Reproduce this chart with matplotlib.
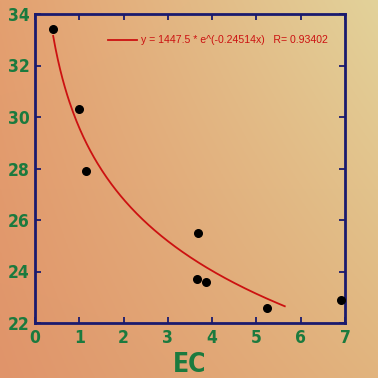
import numpy as np
import matplotlib
matplotlib.use("Agg")
import matplotlib.pyplot as plt
from matplotlib import font_manager
from matplotlib.font_manager import FontProperties

# Data points (EC vs y)
ec = [0.40, 0.99, 1.15, 3.69, 3.66, 3.87, 5.23, 6.90]
val = [33.4, 30.3, 27.9, 25.5, 23.7, 23.6, 22.6, 22.9]

# Trend curve samples
curve_x = [0.41, 0.51, 0.89, 1.50, 2.22, 2.97, 3.72, 4.48, 5.64]
curve_y = [33.31, 32.0, 30.0, 28.0, 26.66, 25.33, 24.26, 23.41, 22.6]

xticks = [0, 1, 2, 3, 4, 5, 6, 7]
yticks = [22, 24, 26, 28, 30, 32, 34]
legend_text = "y = 1447.5 * e^(-0.24514x)   R= 0.93402"
xlabel = "EC"


def stretch_val(s):
    if isinstance(s, (int, float)):
        return s
    m = {"ultra-condensed": 100, "extra-condensed": 200, "condensed": 300,
         "semi-condensed": 400, "normal": 500}
    return m.get(s, 500)


def weight_val(w):
    if isinstance(w, (int, float)):
        return w
    m = {"ultralight": 200, "light": 300, "normal": 400, "regular": 400,
         "medium": 500, "semibold": 600, "demibold": 600, "bold": 700,
         "heavy": 800, "extra bold": 800, "black": 900}
    return m.get(w, 400)


cands = []
for f in font_manager.fontManager.ttflist:
    nm = f.name.lower()
    if ("condensed" in nm or "narrow" in nm or stretch_val(f.stretch) < 500) \
            and f.style == "normal" and "mono" not in nm and "serif" not in nm.replace("sans", ""):
        cands.append(f)
if cands:
    cands.sort(key=lambda f: (abs(weight_val(f.weight) - 750), stretch_val(f.stretch)))
    tick_fp = FontProperties(fname=cands[0].fname)
    cond_found = True
else:
    tick_fp = FontProperties(family="DejaVu Sans", weight="bold", stretch="condensed")
    cond_found = False

fig = plt.figure(figsize=(3.78, 3.78), dpi=100)

# background gradient
bg = fig.add_axes([0, 0, 1, 1], zorder=-10)
tl = np.array([228, 160, 112]) / 255
tr = np.array([226, 210, 154]) / 255
bl = np.array([224, 148, 106]) / 255
br = np.array([226, 180, 126]) / 255
n = 200
u = np.linspace(0, 1, n)[None, :, None]
v = np.linspace(0, 1, n)[:, None, None]
img = (1 - v) * ((1 - u) * tl + u * tr) + v * ((1 - u) * bl + u * br)
bg.imshow(img, aspect="auto", extent=[0, 1, 0, 1], origin="upper")
bg.axis("off")

ax = fig.add_axes([35 / 378, 1 - 323 / 378, 310 / 378, 309 / 378])
ax.patch.set_alpha(0)

# fitted smooth trend through curve samples (log model)
coef = np.polyfit(np.log(curve_x), curve_y, 1)
xs = np.linspace(curve_x[0], curve_x[-1], 200)
ax.plot(xs, np.polyval(coef, np.log(xs)), color="#CC1111", lw=1.3, zorder=2)

ax.scatter(ec, val, s=30, color="black", zorder=3, clip_on=False)

ax.set_xlim(0, 7)
ax.set_ylim(22, 34)
ax.set_xticks(xticks)
ax.set_yticks(yticks)
green = "#1B7A3E"
ax.tick_params(direction="in", length=4, width=1.3, colors="#1A1A6E",
               top=True, right=True, labelcolor=green, pad=4)
tsize = 12.5 if cond_found else 11.5
for lab in ax.get_xticklabels() + ax.get_yticklabels():
    lab.set_fontproperties(tick_fp)
    lab.set_fontsize(tsize)
    lab.set_fontweight("bold")
for s in ax.spines.values():
    s.set_color("#1A1A6E")
    s.set_linewidth(2)

lp = tick_fp.copy()
lp.set_size(19 if cond_found else 17)
lp.set_weight("bold")
ax.set_xlabel(xlabel, fontproperties=lp, color=green, labelpad=4)

# legend
ax.plot([1.64, 2.3], [33.0, 33.0], color="#CC1111", lw=1.3)
ax.text(2.4, 33.0, legend_text, color="#CC1111", fontsize=7.6,
        fontfamily="Liberation Sans", va="center", ha="left")

fig.savefig("out.png", dpi=100)
